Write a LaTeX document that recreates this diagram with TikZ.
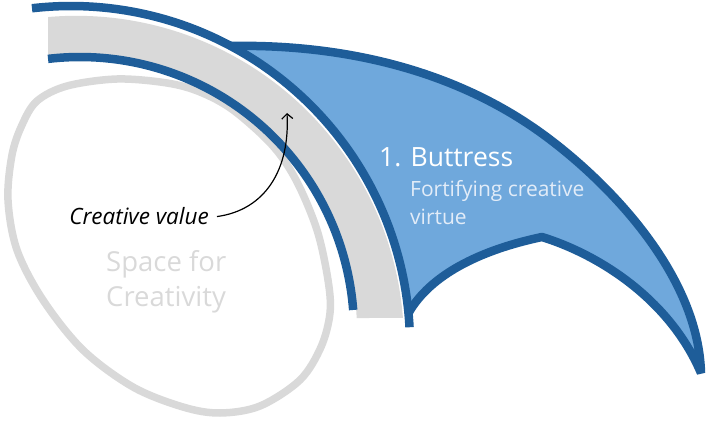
\documentclass[tikz,border=0pt]{standalone}
\usepackage{fontspec}
\setmainfont{Open Sans}
\usetikzlibrary{arrows.meta}
\definecolor{bdark}{RGB}{30,93,153}
\definecolor{bfill}{RGB}{111,168,220}
\definecolor{lgray}{RGB}{217,217,217}
\definecolor{subtxt}{RGB}{226,236,248}
\begin{document}
\begin{tikzpicture}[x=1pt,y=-1pt,
  blueline/.style={draw=bdark,line width=8.5pt},
  grayline/.style={draw=lgray,line width=7.5pt},
  lbl/.style={anchor=base west,inner sep=0pt},
  callout/.style={draw=black,line width=1.2pt,-{Straight Barb[length=5pt,width=11pt]}}]
\useasboundingbox (0,0) rectangle (710,422);
% named points of the buttress
\coordinate (junc) at (408.5,313.1);
\coordinate (apex) at (542,237);
\coordinate (tip) at (701,373);
\coordinate (topmid) at (537,130);
\coordinate (topstart) at (230,46);
\coordinate (arrtip) at (287,113);
% space for creativity (egg shape)
\draw[grayline] plot[smooth cycle,tension=0.55] coordinates {
 (117,79) (167,83) (200,92) (233,110) (272,145) (296,180) (317,230) (328,280)
 (330,313) (321,347) (300,380) (260,406) (220,413) (183,407) (133,387) (83,350)
 (43,300) (17,250) (8,200) (12,155) (22,125) (37,101) (67,86)};
% gray band
\fill[lgray] plot[domain=-94.96:-4.45,samples=90] ({76.35+327.6*cos(\x)},{343.4+327.6*sin(\x)})
  -- plot[domain=-2.69:-96.63,samples=90] ({80+277*cos(\x)},{331+277*sin(\x)}) -- cycle;
% inner blue line
\draw[blueline] plot[domain=-96.70:-4.40,samples=90] ({80+274*cos(\x)},{331+274*sin(\x)});
% buttress fill
\fill[bfill] plot[domain=-62.0:-5.4,samples=60] ({71+339*cos(\x)},{345+339*sin(\x)})
  .. controls (430,275) and (480,250) .. (apex)
  .. controls (600,255) and (670,300) .. (tip)
  .. controls (698,268) and (597.3,172.3) .. (topmid)
  .. controls (443.2,64.2) and (330,44) .. (topstart) -- cycle;
% outer blue line (also the buttress's inner edge)
\draw[blueline] plot[domain=-96.61:-3.0,samples=100] ({71+339*cos(\x)},{345+339*sin(\x)});
% buttress outline
\draw[blueline,line join=bevel] (junc)
  .. controls (430,275) and (480,250) .. (apex)
  .. controls (600,255) and (670,300) .. (tip)
  .. controls (698,268) and (597.3,172.3) .. (topmid)
  .. controls (443.2,64.2) and (330,44) .. (topstart);
% texts
\node[anchor=base east,inner sep=0pt,font=\itshape\fontsize{22.5}{27}\selectfont] (cv) at (209,225) {Creative value};
\node[lbl,text=lgray,font=\fontsize{27.5}{32}\selectfont] (sp1) at (106,272) {Space for};
\node[lbl,text=lgray,font=\fontsize{27.5}{32}\selectfont] (sp2) at (106,307) {Creativity};
\node[lbl,text=white,font=\fontsize{26.5}{31}\selectfont] (title) at (379,167) {1. Buttress};
\node[lbl,text=subtxt,font=\fontsize{21}{25}\selectfont] (sub1) at (410,197) {Fortifying creative};
\node[lbl,text=subtxt,font=\fontsize{21}{25}\selectfont] (sub2) at (410,225) {virtue};
% callout arrow
\draw[callout] ([xshift=8pt]cv.east) .. controls (265,210) and (290,170) .. (arrtip);
\end{tikzpicture}
\end{document}
